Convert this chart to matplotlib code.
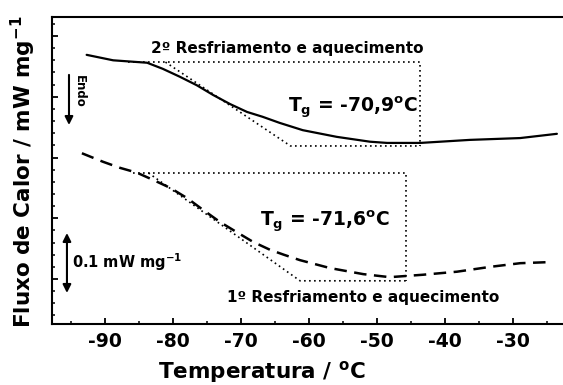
import numpy as np
import matplotlib
matplotlib.use("Agg")
import matplotlib.pyplot as plt
from matplotlib.ticker import MultipleLocator, NullFormatter

# 2o resfriamento e aquecimento (linha cheia)
temp2 = [-92.7, -88.8, -83.8, -81.5, -79.0, -76.5, -74.1, -71.6, -69.1, -66.8,
         -64.3, -60.9, -55.9, -51.0, -48.5, -43.6, -36.3, -28.9, -23.5]
flux2 = [0.369, 0.360, 0.356, 0.346, 0.333, 0.319, 0.303, 0.288, 0.275, 0.267,
         0.257, 0.245, 0.234, 0.226, 0.224, 0.224, 0.229, 0.232, 0.239]

# 1o resfriamento e aquecimento (tracejada)
temp1 = [-93.4, -90.3, -87.8, -85.3, -82.9, -80.4, -77.9, -75.6, -73.1, -70.6,
         -68.2, -65.7, -63.7, -61.3, -56.9, -52.0, -48.1, -43.2, -38.2, -33.3,
         -28.9, -24.1]
flux1 = [0.207, 0.193, 0.183, 0.175, 0.163, 0.150, 0.133, 0.114, 0.094, 0.077,
         0.061, 0.048, 0.040, 0.031, 0.018, 0.008, 0.003, 0.007, 0.012, 0.020,
         0.026, 0.028]

# construcao do Tg: inicio da linha de base, tangente (ini, fim), vertical / niveis
tg2_x = [-86.6, -81.1, -62.7, -43.6]
tg2_y = [0.357, 0.219]
tg1_x = [-85.9, -83.6, -61.3, -45.7]
tg1_y = [0.1745, -0.003]

tg_labels = ["-70,9", "-71,6"]
xticks = [-90, -80, -70, -60, -50, -40, -30]

plt.rcParams['font.family'] = 'DejaVu Sans'
plt.rcParams['font.weight'] = 'bold'
plt.rcParams['mathtext.fontset'] = 'dejavusans'

fig = plt.figure(figsize=(5.63, 3.85), dpi=100)
ax = fig.add_axes([52/563, 1-324/385, 511/563, 307/385])

ax.plot(temp2, flux2, color='black', lw=1.6, solid_joinstyle='round',
        solid_capstyle='round')
ax.plot(temp1, flux1, color='black', lw=1.8, dashes=(5, 3),
        dash_joinstyle='round')

for xs, ys in [(tg2_x, tg2_y), (tg1_x, tg1_y)]:
    kw = dict(color='black', lw=1.2, dashes=(1, 2))
    ax.plot([xs[0], xs[3], xs[3]], [ys[0], ys[0], ys[1]], **kw)
    ax.plot([xs[1], xs[2], xs[3]], [ys[0], ys[1], ys[1]], **kw)

ax.set_xlim(-97.8, -22.6)
ax.set_ylim(-0.0741, 0.4313)

ax.xaxis.set_major_locator(MultipleLocator(10))
ax.xaxis.set_minor_locator(MultipleLocator(5))
ax.yaxis.set_major_locator(MultipleLocator(0.1))
ax.yaxis.set_minor_locator(MultipleLocator(0.02))
ax.yaxis.set_major_formatter(NullFormatter())
ax.set_xticks(xticks)
ax.set_xticklabels([str(t) for t in xticks])
ax.tick_params(which='major', direction='in', length=4, width=1.3,
               labelsize=13.5, pad=6)
ax.tick_params(which='minor', direction='in', length=2, width=1.1)
for lab in ax.get_xticklabels():
    lab.set_fontweight('bold')

for s in ['left', 'bottom', 'top']:
    ax.spines[s].set_linewidth(1.5)
ax.spines['right'].set_visible(False)

# textos
ax.text(-63.2, 0.380, "2º Resfriamento e aquecimento", ha='center', va='center',
        fontsize=11, fontweight='bold')
ax.text(-52.0, -0.030, "1º Resfriamento e aquecimento", ha='center', va='center',
        fontsize=11, fontweight='bold')
ax.text(-63.1, 0.283, r"$\mathbf{T_g}$ = " + tg_labels[0] + r"$\mathbf{^o}$C",
        ha='left', va='center', fontsize=13.5, fontweight='bold')
ax.text(-67.2, 0.0955, r"$\mathbf{T_g}$ = " + tg_labels[1] + r"$\mathbf{^o}$C",
        ha='left', va='center', fontsize=13.5, fontweight='bold')

# seta Endo
ax.annotate("", xy=(-95.3, 0.2535), xytext=(-95.3, 0.336),
            arrowprops=dict(arrowstyle='-|>', color='black', lw=1.5,
                            mutation_scale=12, shrinkA=0, shrinkB=0))
ax.text(-93.8, 0.309, "Endo", rotation=-90, ha='center', va='center',
        fontsize=8.5, fontweight='bold')

# barra de escala
ax.annotate("", xy=(-95.6, -0.023), xytext=(-95.6, 0.0757),
            arrowprops=dict(arrowstyle='<|-|>', color='black', lw=1.5,
                            mutation_scale=12, shrinkA=0, shrinkB=0))
ax.text(-94.9, 0.028, r"0.1 mW mg$\mathbf{^{-1}}$", ha='left', va='center',
        fontsize=10.5, fontweight='bold')

fig.text(23/563, 1-172/385, r"Fluxo de Calor / mW mg$\mathbf{^{-1}}$", rotation=90,
         ha='center', va='center', fontsize=15.5, fontweight='bold')
fig.text(262/563, 1-372/385, r"Temperatura / $\mathbf{^o}$C",
         ha='center', va='center', fontsize=15.5, fontweight='bold')

fig.savefig("out.png", dpi=100)
